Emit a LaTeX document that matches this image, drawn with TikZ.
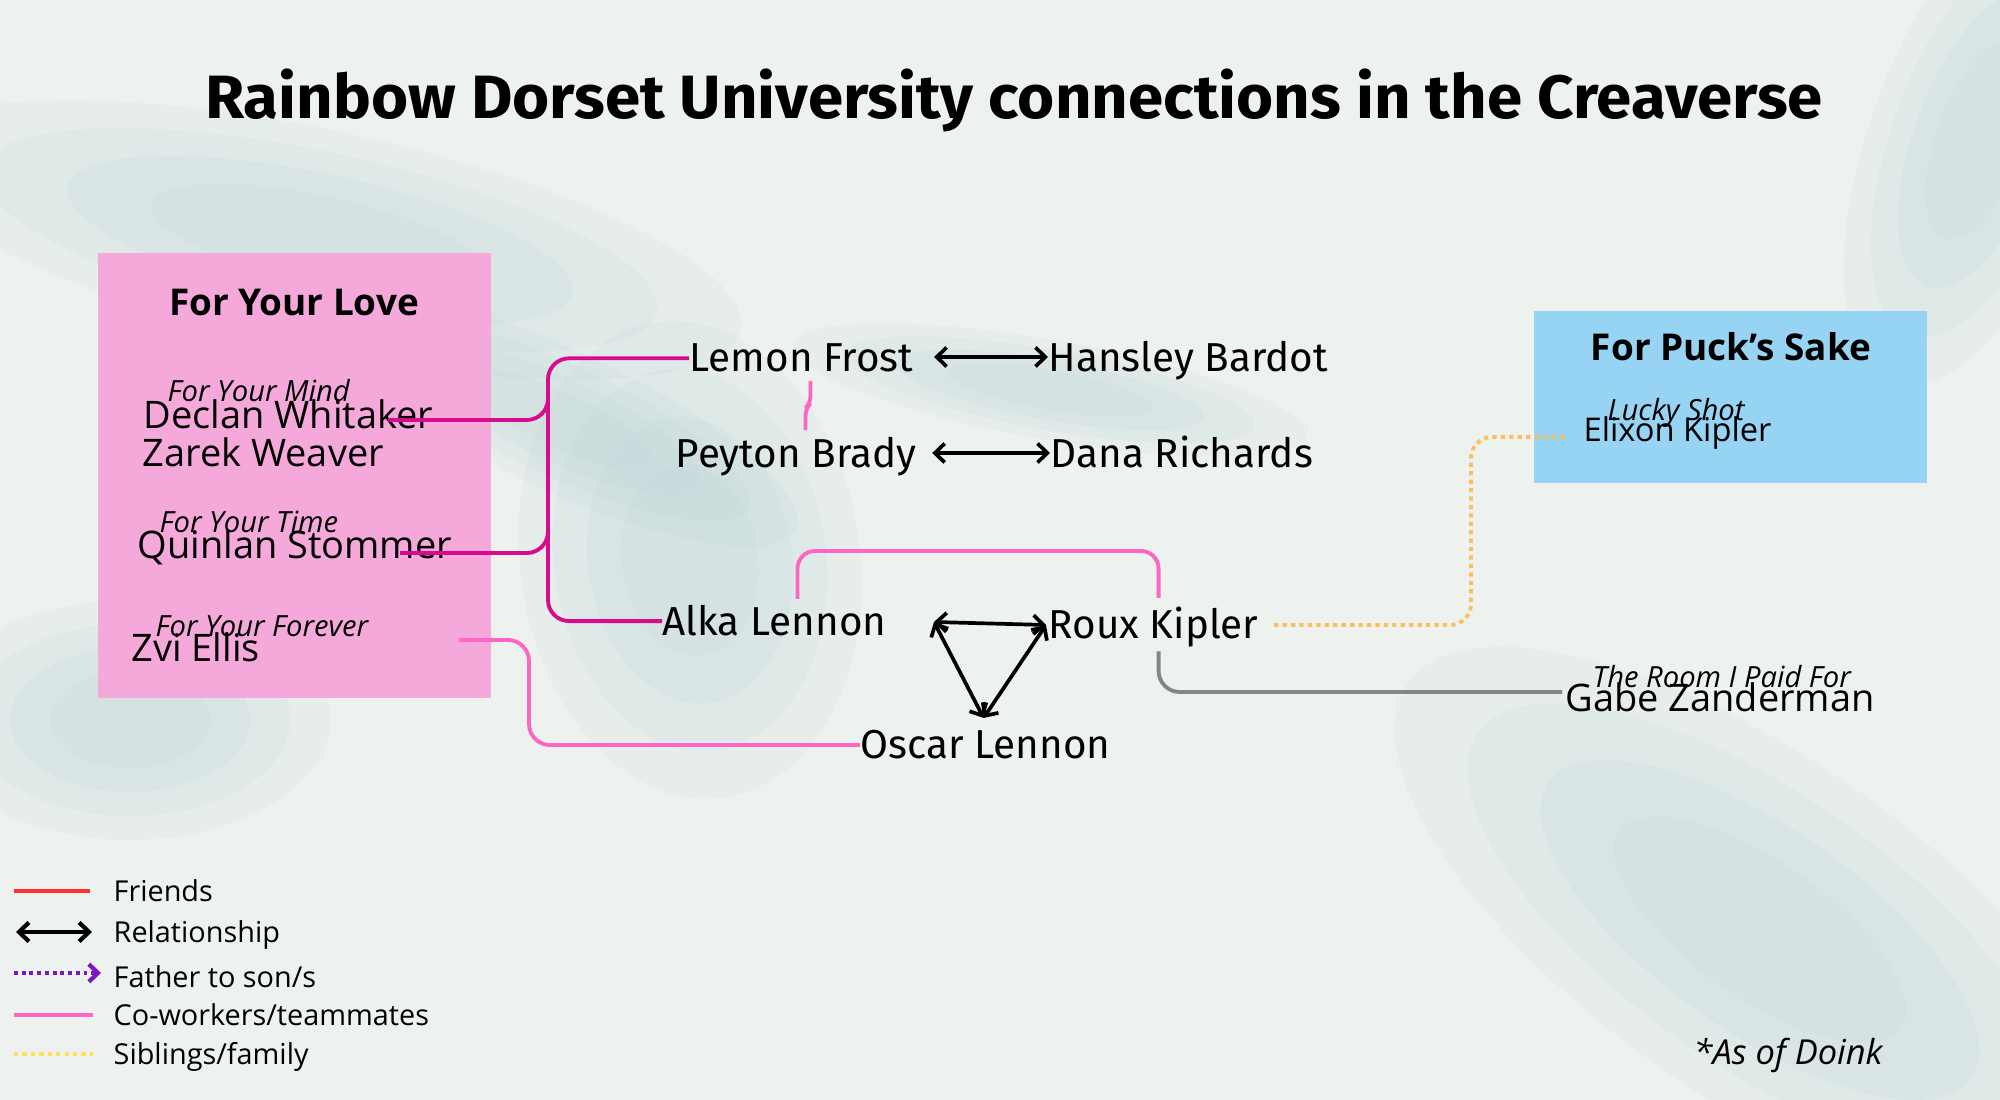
\documentclass[tikz,border=0pt]{standalone}
\usepackage{fontspec}
\setmainfont{Open Sans}
\newfontfamily\condfont{Fira Sans}
\newfontfamily\titlefont[FakeStretch=1.04]{Fira Sans}
\usetikzlibrary{positioning,arrows.meta,calc}

\definecolor{bgcol}{HTML}{EEF2EF}
\definecolor{marble}{HTML}{B4D0D4}
\definecolor{fylpink}{HTML}{F5A9DA}
\definecolor{fpsblue}{HTML}{97D3F3}
\definecolor{linkmag}{HTML}{D80B8C}
\definecolor{linkpink}{HTML}{FF66C4}
\definecolor{linkgray}{HTML}{858585}
\definecolor{linkgold}{HTML}{FFBD59}
\definecolor{legyellow}{HTML}{FFDE59}
\definecolor{legred}{HTML}{FF3131}
\definecolor{legpurple}{HTML}{7A16C4}

% soft teal patch of the marble paper: centre x, centre y, half width, half height, angle
\newcommand\marblepatch[5]{%
  \foreach \s in {1,0.8,0.6,0.4}
    \fill[marble, opacity=0.12, rotate around={#5:(#1,#2)}] (#1,#2) ellipse ({#3*\s} and {#4*\s});%
}

\tikzset{
  charname/.style={font=\condfont\fontsize{11.5}{13}\selectfont, inner sep=0pt, anchor=base west},
  leftname/.style={font=\fontsize{10.8}{12}\selectfont, inner sep=0pt, anchor=base west},
  booktitle/.style={font=\itshape\fontsize{8.3}{10}\selectfont, inner sep=0pt, anchor=base west},
  seriestitle/.style={font=\bfseries\fontsize{10.5}{12}\selectfont, inner sep=0pt, anchor=base},
  legendtext/.style={font=\fontsize{8.2}{10}\selectfont, inner sep=0pt, anchor=base west},
  link/.style={line width=1.1pt, rounded corners=6pt},
  seriesmain/.style={link, draw=linkmag},
  cowork/.style={link, draw=linkpink},
  onlyone/.style={link, draw=linkgray},
  sibling/.style={link, draw=linkgold, dash pattern=on 1.2pt off 1.2pt},
  relation/.style={line width=1.05pt, line cap=round,
    {Straight Barb[length=2.8pt,width=5.4pt]}-{Straight Barb[length=2.8pt,width=5.4pt]}},
}

\begin{document}
\begin{tikzpicture}[x=0.1mm, y=-0.1mm]
  % canvas: 2000 x 1100 units, y grows downwards
  \useasboundingbox (0,0) rectangle (2000,1100);
  \fill[bgcol] (0,0) rectangle (2000,1100);
  % marble background
  \marblepatch{320}{240}{430}{110}{-12}
  \marblepatch{560}{420}{260}{70}{-25}
  \marblepatch{690}{560}{170}{240}{8}
  \marblepatch{130}{720}{200}{120}{0}
  \marblepatch{1760}{930}{430}{170}{-35}
  \marblepatch{1980}{140}{110}{260}{-20}
  \marblepatch{1050}{390}{260}{50}{-10}

  \node[font=\titlefont\bfseries\fontsize{17.4}{20}\selectfont, inner sep=0pt, anchor=base] (title) at (1014,119)
    {Rainbow Dorset University connections in the Creaverse};

  % For Your Love series
  \fill[fylpink] (98,253) rectangle (491,698);
  \node[seriestitle] (fyl) at (294,316) {For Your Love};
  \node[booktitle] (fymind) at (167,402) {For Your Mind};
  \node[leftname] (declan) at (143,429) {Declan Whitaker};
  \node[leftname] (zarek) at (142,467) {Zarek Weaver};
  \node[booktitle] (fytime) at (159,533) {For Your Time};
  \node[leftname] (quinlan) at (137,559) {Quinlan Stommer};
  \node[booktitle] (fyforever) at (155,637) {For Your Forever};
  \node[leftname] (zvi) at (131,662) {Zvi Ellis};
  \coordinate (declanend) at (388,420);
  \coordinate (quinlanend) at (400,553);
  \coordinate (zviend) at (459,640);

  % For Puck's Sake series
  \fill[fpsblue] (1534,311) rectangle (1927,483);
  \node[seriestitle] (fps) at (1731,361) {For Puck’s Sake};
  \node[booktitle] (luckyshot) at (1607,421) {Lucky Shot};
  \node[leftname, font=\fontsize{9.3}{11}\selectfont] (elixon) at (1583,442) {Elixon Kipler};
  \node[booktitle] (roompaid) at (1592,688) {The Room I Paid For};
  \node[leftname] (gabe) at (1565,712) {Gabe Zanderman};

  % Rainbow Dorset characters
  \node[charname] (lemon) at (689,372) {Lemon Frost};
  \node[charname] (hansley) at (1048,372) {Hansley Bardot};
  \node[charname] (peyton) at (675,468) {Peyton Brady};
  \node[charname] (dana) at (1050,468) {Dana Richards};
  \node[charname] (alka) at (662,636) {Alka Lennon};
  \node[charname] (roux) at (1048,639) {Roux Kipler};
  \node[charname] (oscar) at (860,759) {Oscar Lennon};

  % series links
  \draw[seriesmain] (lemon.west) -| (548,500) |- (alka.west);
  \draw[seriesmain] (declanend) -| (548,385);
  \draw[seriesmain] (quinlanend) -| (548,515);

  % relationships
  \draw[relation, shorten <=2mm] ([yshift=1.5mm]lemon.base east) -- ([yshift=1.5mm]lemon.base east -| hansley.west);
  \draw[relation, shorten <=1.5mm] ([yshift=1.5mm]peyton.base east) -- ([yshift=1.5mm]peyton.base east -| dana.west);
  \coordinate (alkatip) at ($(alka.base east)+(47,-14)$);
  \coordinate (rouxtip) at ($(roux.base west)+(-2,-14)$);
  \coordinate (oscartip) at ($(oscar.north)+(-2,-12)$);
  \draw[relation] (alkatip) -- (rouxtip);
  \draw[relation] (alkatip) -- (oscartip);
  \draw[relation] (rouxtip) -- (oscartip);

  % co-workers
  \draw[cowork, rounded corners=2pt] ($(lemon.south)+(9,8)$) -- ++(0,22) -- ++(-5,5) -- ++(0,22);
  \draw[cowork, rounded corners=5pt] ($(alka.north)+(23,-6)$) -- ++(0,-48) -| ($(roux.north)+(5,-9)$);
  \draw[cowork] (zviend) -- (529,640) |- (oscar.west);

  % family and the rest
  \draw[sibling] ($(roux.base east)+(15,-14)$) -| ($(elixon.base west)+(-112,-5)$) -- ($(elixon.base west)+(-15,-5)$);
  \draw[onlyone] ($(roux.south)+(5,3)$) |- ($(gabe.base west)+(-3,-20)$);

  % legend
  \node[legendtext] (lgfriends) at (113,902) {Friends};
  \node[legendtext] (lgrelation) at (113,943) {Relationship};
  \node[legendtext] (lgfather) at (113,988) {Father to son/s};
  \node[legendtext] (lgcowork) at (113,1026) {Co-workers/teammates};
  \node[legendtext] (lgsibling) at (113,1065) {Siblings/family};
  \draw[legred, line width=1.2pt] ($(lgfriends.base west)+(-99,-11)$) -- ++(76,0);
  \draw[relation, line width=1.2pt] ($(lgrelation.base west)+(-97,-11)$) -- ++(76,0);
  \draw[legpurple, line width=1.2pt, dash pattern=on 1.1pt off 1.1pt, -{Straight Barb[length=2.6pt,width=5pt]}]
    ($(lgfather.base west)+(-99,-15)$) -- ++(87,0);
  \draw[linkpink, line width=1.2pt] ($(lgcowork.base west)+(-99,-11)$) -- ++(79,0);
  \draw[legyellow, line width=1.2pt, dash pattern=on 1.2pt off 1.2pt] ($(lgsibling.base west)+(-99,-11)$) -- ++(79,0);

  \node[font=\itshape\fontsize{9.8}{12}\selectfont, inner sep=0pt, anchor=base west] (asof) at (1693,1065) {*As of Doink};
\end{tikzpicture}
\end{document}
